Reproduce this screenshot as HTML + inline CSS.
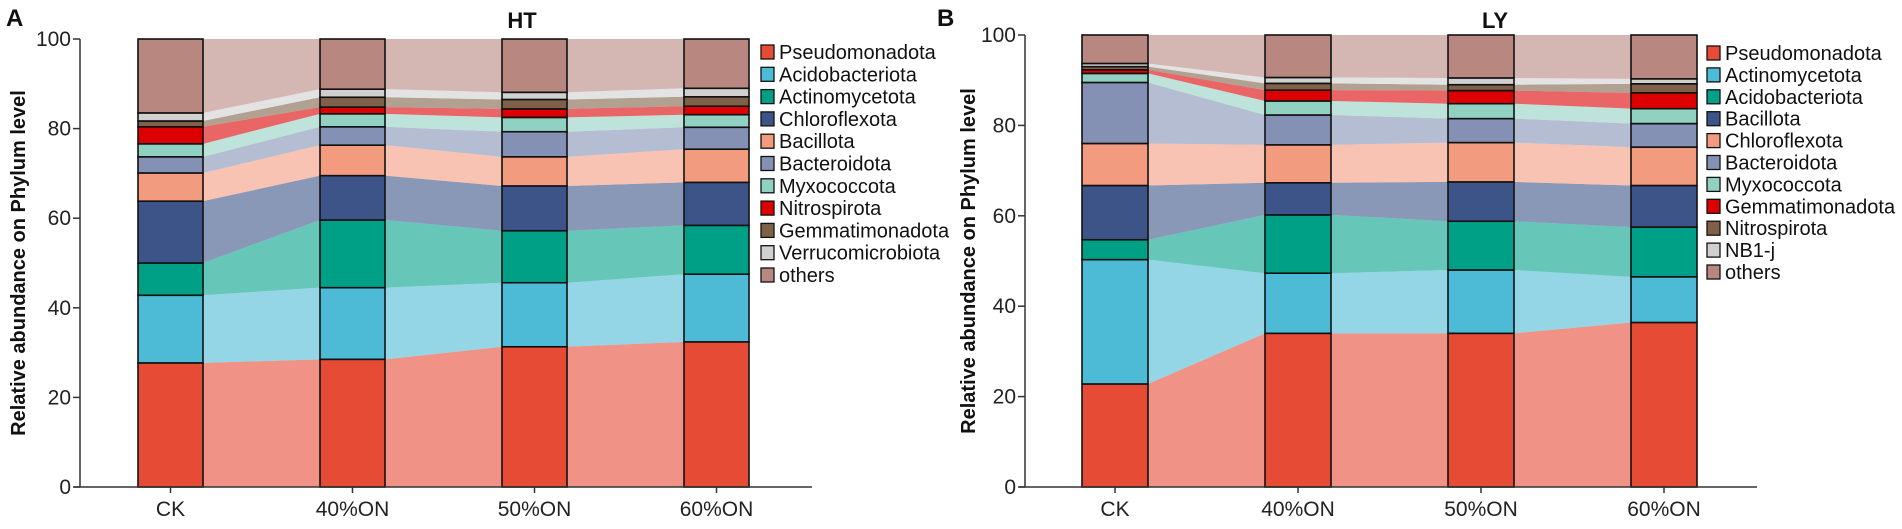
<!DOCTYPE html>
<html><head><meta charset="utf-8"><style>
html,body{margin:0;padding:0;background:#fff;}
svg{display:block;font-family:"Liberation Sans",Arial,sans-serif;}
</style></head><body>
<svg id="fig" width="1902" height="529" viewBox="0 0 1902 529"></svg>
<script>
const categories = ["CK","40%ON","50%ON","60%ON"];
const yTicks = [0,20,40,60,80,100];
// Panel A (HT) series, bottom to top
const htNames = ["Pseudomonadota","Acidobacteriota","Actinomycetota","Chloroflexota","Bacillota","Bacteroidota","Myxococcota","Nitrospirota","Gemmatimonadota","Verrucomicrobiota","others"];
const htPseudomonadota = [27.7,28.5,31.3,32.4];
const htAcidobacteriota = [15.1,16.0,14.3,15.1];
const htActinomycetota = [7.2,15.1,11.6,10.9];
const htChloroflexota = [13.8,9.9,10.0,9.6];
const htBacillota = [6.3,6.8,6.5,7.4];
const htBacteroidota = [3.6,4.1,5.6,4.9];
const htMyxococcota = [2.9,2.9,3.2,2.8];
const htNitrospirota = [3.8,1.5,1.9,1.9];
const htGemmatimonadota = [1.3,2.2,2.1,2.1];
const htVerrucomicrobiota = [1.8,1.8,1.6,1.9];
const htOthers = [16.5,11.2,11.9,11.0];
// Panel B (LY) series, bottom to top
const lyNames = ["Pseudomonadota","Actinomycetota","Acidobacteriota","Bacillota","Chloroflexota","Bacteroidota","Myxococcota","Gemmatimonadota","Nitrospirota","NB1-j","others"];
const lyPseudomonadota = [22.8,34.0,34.0,36.4];
const lyActinomycetota = [27.5,13.3,14.0,10.1];
const lyAcidobacteriota = [4.4,12.9,10.8,11.0];
const lyBacillota = [12.0,7.1,8.7,9.2];
const lyChloroflexota = [9.3,8.4,8.7,8.5];
const lyBacteroidota = [13.5,6.6,5.3,5.2];
const lyMyxococcota = [2.0,3.1,3.3,3.3];
const lyGemmatimonadota = [0.8,2.4,2.9,3.5];
const lyNitrospirota = [0.7,1.5,1.3,2.0];
const lyNB1j = [0.7,1.3,1.5,1.1];
const lyOthers = [6.3,9.4,9.5,9.7];

const C = {Pseudomonadota:"#e64b35",Acidobacteriota:"#4dbbd5",Actinomycetota:"#00a087",Chloroflexota:"#3c5488",Bacillota:"#f39b7f",Bacteroidota:"#8491b4",Myxococcota:"#91d1c2",Nitrospirota:"#dc0000",Gemmatimonadota:"#7e6148",Verrucomicrobiota:"#d0d0d0",others:"#b8877f"};
const CB = Object.assign({}, C, {Actinomycetota:"#4dbbd5",Acidobacteriota:"#00a087",Bacillota:"#3c5488",Chloroflexota:"#f39b7f",Gemmatimonadota:"#dc0000",Nitrospirota:"#7e6148","NB1-j":"#d0d0d0"});

const NS="http://www.w3.org/2000/svg";
const svg=document.getElementById('fig');
function mk(tag,attrs,parent){const e=document.createElementNS(NS,tag);for(const k in attrs)e.setAttribute(k,attrs[k]);(parent||svg).appendChild(e);return e;}

function panel(cfg){
  const g=mk('g',{});
  
  
  const y=v=>cfg.y0-(v/100)*(cfg.y0-cfg.y100);
  const cx=i=>cfg.c0+i*cfg.step;
  const hw=cfg.bw/2;
  const cum=[]; let base=categories.map(()=>0);
  cfg.series.forEach(s=>{const top=base.map((b,i)=>b+s[i]);cum.push({bot:base,top:top});base=top;});
  cum.forEach((c,si)=>{
    for(let i=0;i<categories.length-1;i++){
      const xa=cx(i)+hw, xb=cx(i+1)-hw;
      const p=mk('polygon',{points:`${xa},${y(c.top[i])} ${xb},${y(c.top[i+1])} ${xb},${y(c.bot[i+1])} ${xa},${y(c.bot[i])}`,fill:cfg.colors[cfg.names[si]],'fill-opacity':0.6},g);
      
      
    }
  });
  cum.forEach((c,si)=>{
    categories.forEach((cat,i)=>{
      const r=mk('rect',{x:cx(i)-hw,y:y(c.top[i]),width:cfg.bw,height:y(c.bot[i])-y(c.top[i]),fill:cfg.colors[cfg.names[si]],stroke:'#111','stroke-width':1.6},g);
      
      
    });
  });
  const ax=mk('line',{x1:cfg.ax,y1:cfg.y100,x2:cfg.ax,y2:cfg.y0,stroke:'#333','stroke-width':1.5},g);
  
  
  const xa=mk('line',{x1:cfg.ax-6,y1:cfg.y0,x2:cfg.axEnd,y2:cfg.y0,stroke:'#333','stroke-width':1.5},g);
  
  
  yTicks.forEach(t=>{
    mk('line',{x1:cfg.ax-7,y1:y(t),x2:cfg.ax,y2:y(t),stroke:'#333','stroke-width':1.5},g);
    const tx=mk('text',{x:cfg.ax-9,y:y(t)+7,'text-anchor':'end','font-size':21,fill:'#222'},g);
    tx.textContent=t;
    
    
  });
  categories.forEach((cat,i)=>{
    mk('line',{x1:cx(i),y1:cfg.y0,x2:cx(i),y2:cfg.y0+6,stroke:'#333','stroke-width':1.5},g);
    const tx=mk('text',{x:cx(i),y:cfg.y0+29,'text-anchor':'middle','font-size':21,fill:'#222'},g);
    tx.textContent=cat;
    
    
  });
  const yt=mk('text',{x:0,y:0,transform:`translate(${cfg.ytx},${(cfg.y0+cfg.y100)/2}) rotate(-90)`,'text-anchor':'middle','font-size':20,'font-weight':'bold',fill:'#111'},g);
  yt.textContent='Relative abundance on Phylum level';
  
  
  const tt=mk('text',{x:cfg.titleX,y:28,'text-anchor':'middle','font-size':22,'font-weight':'bold',fill:'#111'},g);
  tt.textContent=cfg.title;
  
  
  const pl=mk('text',{x:cfg.letterX,y:26,'font-size':24,'font-weight':'bold',fill:'#111'},g);
  pl.textContent=cfg.letter;
  
  
  cfg.names.forEach((n,k)=>{
    const ly=cfg.legY+k*cfg.legStep;
    const sw=mk('rect',{x:cfg.legX,y:ly-7,width:13,height:14,fill:cfg.colors[n],stroke:'#111','stroke-width':1.3},g);
    
    
    const tx=mk('text',{x:cfg.legX+18,y:ly+7,'font-size':20,fill:'#111'},g);
    tx.textContent=n;
    
    
  });
}

panel({id:'ht',title:'HT',letter:'A',names:htNames,colors:C,
  series:[htPseudomonadota,htAcidobacteriota,htActinomycetota,htChloroflexota,htBacillota,htBacteroidota,htMyxococcota,htNitrospirota,htGemmatimonadota,htVerrucomicrobiota,htOthers],
  y0:487,y100:39,ax:80,axEnd:812,c0:170.5,step:182,bw:65,ytx:25,titleX:522,letterX:6,legX:761,legY:52,legStep:22.3});
panel({id:'ly',title:'LY',letter:'B',names:lyNames,colors:CB,
  series:[lyPseudomonadota,lyActinomycetota,lyAcidobacteriota,lyBacillota,lyChloroflexota,lyBacteroidota,lyMyxococcota,lyGemmatimonadota,lyNitrospirota,lyNB1j,lyOthers],
  y0:487,y100:35,ax:1025,axEnd:1757,c0:1115,step:183,bw:66,ytx:975,titleX:1495,letterX:937,legX:1707,legY:53,legStep:21.9});
</script>
</body></html>
